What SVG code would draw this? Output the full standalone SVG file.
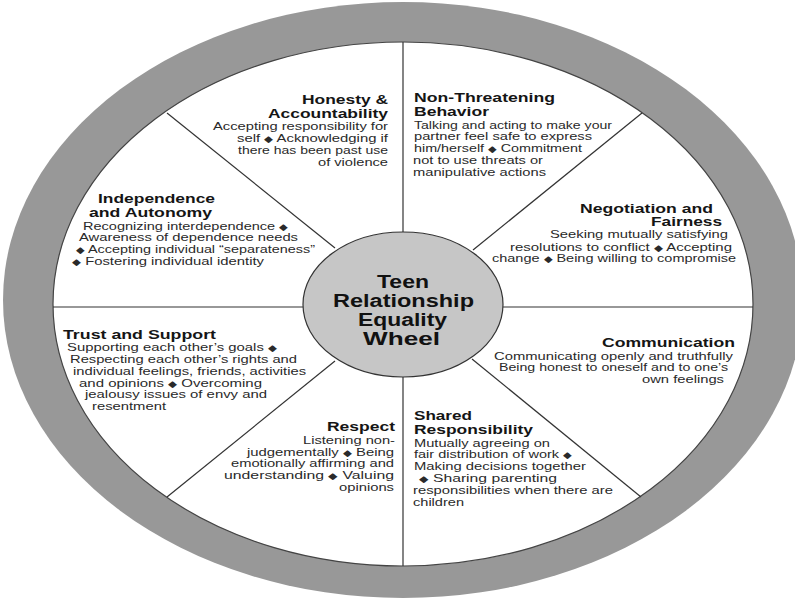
<svg xmlns="http://www.w3.org/2000/svg" width="795" height="599" viewBox="0 0 795 599">
<style>
text { font-family: "Liberation Sans", Arial, sans-serif; }
.h { font-size: 13.5px; font-weight: bold; fill: #151515; }
.b { font-size: 11.5px; fill: #2a2a2a; }
.c { font-size: 18px; font-weight: bold; fill: #111; }
.d { font-size: 9px; }
.ln { stroke: #333; stroke-width: 1.2; fill: none; }
</style>
<rect width="795" height="599" fill="#fff"/>
<g id="wheel">
<ellipse cx="403" cy="300" rx="400" ry="298" fill="#989898"/>
<ellipse cx="403" cy="304" rx="350" ry="262" fill="#fff" stroke="#444" stroke-width="1.2"/>
</g>
<g id="connectors">
<line class="ln" x1="403" y1="42" x2="403" y2="232"/>
<line class="ln" x1="403" y1="377" x2="403" y2="566"/>
<line class="ln" x1="53" y1="307" x2="303" y2="307"/>
<line class="ln" x1="503" y1="307" x2="753" y2="307"/>
<line class="ln" x1="167" y1="113" x2="335" y2="248"/>
<line class="ln" x1="642" y1="113" x2="473" y2="250"/>
<line class="ln" x1="335" y1="361" x2="167" y2="497"/>
<line class="ln" x1="472" y1="359" x2="641" y2="497"/>
</g>
<g id="center">
<ellipse cx="403" cy="304.5" rx="100" ry="72.5" fill="#c6c6c6" stroke="#333" stroke-width="1.2"/>
<text class="c" x="377" y="288" textLength="52" lengthAdjust="spacingAndGlyphs">Teen</text>
<text class="c" x="333" y="307" textLength="141" lengthAdjust="spacingAndGlyphs">Relationship</text>
<text class="c" x="358" y="326" textLength="89" lengthAdjust="spacingAndGlyphs">Equality</text>
<text class="c" x="363" y="345" textLength="77" lengthAdjust="spacingAndGlyphs">Wheel</text>
</g>
<g id="honesty">
<text class="h" x="302" y="104" textLength="86" lengthAdjust="spacingAndGlyphs">Honesty &amp;</text>
<text class="h" x="268" y="118" textLength="120" lengthAdjust="spacingAndGlyphs">Accountability</text>
<text class="b" x="213" y="130" textLength="175" lengthAdjust="spacingAndGlyphs">Accepting responsibility for</text>
<text class="b" x="237" y="142" textLength="151" lengthAdjust="spacingAndGlyphs">self <tspan class="d">◆</tspan> Acknowledging if</text>
<text class="b" x="238" y="154" textLength="150" lengthAdjust="spacingAndGlyphs">there has been past use</text>
<text class="b" x="318" y="166" textLength="70" lengthAdjust="spacingAndGlyphs">of violence</text>
</g>
<g id="non-threatening">
<text class="h" x="414" y="102" textLength="141" lengthAdjust="spacingAndGlyphs">Non-Threatening</text>
<text class="h" x="414" y="116" textLength="75" lengthAdjust="spacingAndGlyphs">Behavior</text>
<text class="b" x="414" y="129" textLength="198" lengthAdjust="spacingAndGlyphs">Talking and acting to make your</text>
<text class="b" x="414" y="140" textLength="178" lengthAdjust="spacingAndGlyphs">partner feel safe to express</text>
<text class="b" x="414" y="152" textLength="168" lengthAdjust="spacingAndGlyphs">him/herself <tspan class="d">◆</tspan> Commitment</text>
<text class="b" x="413" y="164" textLength="130" lengthAdjust="spacingAndGlyphs">not to use threats or</text>
<text class="b" x="413" y="176" textLength="133" lengthAdjust="spacingAndGlyphs">manipulative actions</text>
</g>
<g id="negotiation">
<text class="h" x="580" y="213" textLength="133" lengthAdjust="spacingAndGlyphs">Negotiation and</text>
<text class="h" x="651" y="226" textLength="71" lengthAdjust="spacingAndGlyphs">Fairness</text>
<text class="b" x="550" y="238" textLength="178" lengthAdjust="spacingAndGlyphs">Seeking mutually satisfying</text>
<text class="b" x="510" y="251" textLength="222" lengthAdjust="spacingAndGlyphs">resolutions to conflict <tspan class="d">◆</tspan> Accepting</text>
<text class="b" x="492" y="262" textLength="244" lengthAdjust="spacingAndGlyphs">change <tspan class="d">◆</tspan> Being willing to compromise</text>
</g>
<g id="communication">
<text class="h" x="602" y="347" textLength="133" lengthAdjust="spacingAndGlyphs">Communication</text>
<text class="b" x="494" y="360" textLength="239" lengthAdjust="spacingAndGlyphs">Communicating openly and truthfully</text>
<text class="b" x="499" y="371" textLength="229" lengthAdjust="spacingAndGlyphs">Being honest to oneself and to one’s</text>
<text class="b" x="642" y="383" textLength="82" lengthAdjust="spacingAndGlyphs">own feelings</text>
</g>
<g id="shared-responsibility">
<text class="h" x="414" y="420" textLength="58" lengthAdjust="spacingAndGlyphs">Shared</text>
<text class="h" x="414" y="434" textLength="119" lengthAdjust="spacingAndGlyphs">Responsibility</text>
<text class="b" x="414" y="447" textLength="136" lengthAdjust="spacingAndGlyphs">Mutually agreeing on</text>
<text class="b" x="414" y="458" textLength="158" lengthAdjust="spacingAndGlyphs">fair distribution of work <tspan class="d">◆</tspan></text>
<text class="b" x="414" y="470" textLength="172" lengthAdjust="spacingAndGlyphs">Making decisions together</text>
<text class="b" x="419" y="482" textLength="138" lengthAdjust="spacingAndGlyphs"><tspan class="d">◆</tspan>   Sharing parenting</text>
<text class="b" x="413" y="494" textLength="200" lengthAdjust="spacingAndGlyphs">responsibilities when there are</text>
<text class="b" x="413" y="506" textLength="51" lengthAdjust="spacingAndGlyphs">children</text>
</g>
<g id="respect">
<text class="h" x="327" y="431" textLength="68" lengthAdjust="spacingAndGlyphs">Respect</text>
<text class="b" x="303" y="444" textLength="92" lengthAdjust="spacingAndGlyphs">Listening non-</text>
<text class="b" x="247" y="456" textLength="147" lengthAdjust="spacingAndGlyphs">judgementally <tspan class="d">◆</tspan> Being</text>
<text class="b" x="231" y="467" textLength="163" lengthAdjust="spacingAndGlyphs">emotionally affirming and</text>
<text class="b" x="224" y="479" textLength="170" lengthAdjust="spacingAndGlyphs">understanding  <tspan class="d">◆</tspan>  Valuing</text>
<text class="b" x="339" y="491" textLength="55" lengthAdjust="spacingAndGlyphs">opinions</text>
</g>
<g id="trust">
<text class="h" x="63" y="339" textLength="153" lengthAdjust="spacingAndGlyphs">Trust and Support</text>
<text class="b" x="67" y="351" textLength="210" lengthAdjust="spacingAndGlyphs">Supporting each other’s goals <tspan class="d">◆</tspan></text>
<text class="b" x="70" y="363" textLength="227" lengthAdjust="spacingAndGlyphs">Respecting each other’s rights and</text>
<text class="b" x="73" y="375" textLength="233" lengthAdjust="spacingAndGlyphs">individual feelings, friends, activities</text>
<text class="b" x="79" y="387" textLength="183" lengthAdjust="spacingAndGlyphs">and opinions <tspan class="d">◆</tspan> Overcoming</text>
<text class="b" x="85" y="398" textLength="182" lengthAdjust="spacingAndGlyphs">jealousy issues of envy and</text>
<text class="b" x="92" y="410" textLength="74" lengthAdjust="spacingAndGlyphs">resentment</text>
</g>
<g id="independence">
<text class="h" x="98" y="203" textLength="117" lengthAdjust="spacingAndGlyphs">Independence</text>
<text class="h" x="89" y="217" textLength="123" lengthAdjust="spacingAndGlyphs">and Autonomy</text>
<text class="b" x="83" y="230" textLength="205" lengthAdjust="spacingAndGlyphs">Recognizing interdependence <tspan class="d">◆</tspan></text>
<text class="b" x="79" y="241" textLength="219" lengthAdjust="spacingAndGlyphs">Awareness of dependence needs</text>
<text class="b" x="76" y="253" textLength="239" lengthAdjust="spacingAndGlyphs"><tspan class="d">◆</tspan> Accepting individual “separateness”</text>
<text class="b" x="72" y="265" textLength="192" lengthAdjust="spacingAndGlyphs"><tspan class="d">◆</tspan> Fostering individual identity</text>
</g>
</svg>
